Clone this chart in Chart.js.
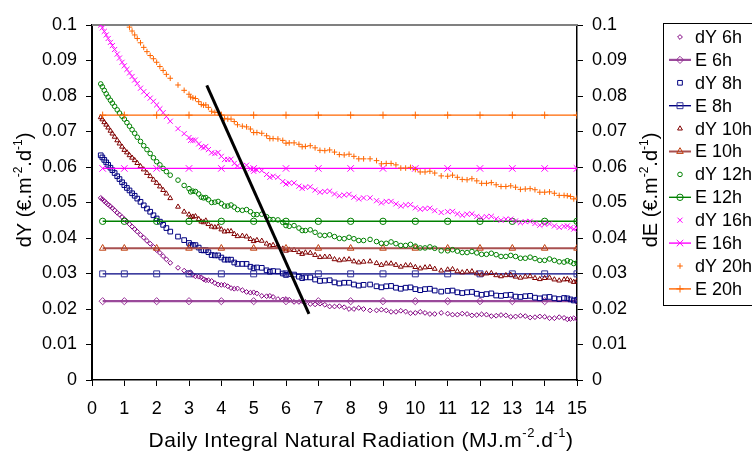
<!DOCTYPE html>
<html><head><meta charset="utf-8">
<script src="https://cdn.jsdelivr.net/npm/chart.js@4"></script>
<style>html,body{margin:0;padding:0;background:#fff;}#wrap{width:752px;height:454px;}</style>
</head><body><div id="wrap"><canvas id="c" width="752" height="454"></canvas></div>
<script>
// ---------- DATA ----------
const photoperiods = ['6h','8h','10h','12h','16h','20h'];
const radiation = [0.27,0.32,0.38,0.44,0.5,0.57,0.63,0.7,0.78,0.85,0.93,1,1.08,1.16,1.24,1.32,1.4,1.5,1.6,1.7,1.8,1.9,2,2.1,2.2,2.3,2.42,2.66,2.85,3,3.12,3.3,3.45,3.6,3.8,4,4.2,4.4,4.65,4.9,5.1,5.4,5.6,5.9,6.1,6.4,6.6,6.9,7.2,7.5,7.8,8.1,8.4,8.8,9.1,9.4,9.7,10,10.3,10.6,11,11.3,11.6,11.9,12.2,12.5,12.8,13.1,13.4,13.7,14,14.3,14.6,14.8,15];
const dY6h = [0.0513,0.0509,0.0504,0.0499,0.0494,0.0489,0.0484,0.0478,0.0471,0.0466,0.0459,0.0453,0.0446,0.0439,0.0432,0.0425,0.0418,0.0409,0.0401,0.0392,0.0384,0.0375,0.0366,0.0358,0.0349,0.0340,0.0330,0.0316,0.0308,0.0302,0.0296,0.0291,0.0284,0.0281,0.0273,0.0268,0.0264,0.0257,0.0253,0.0246,0.0244,0.0236,0.0234,0.0227,0.0226,0.0220,0.0220,0.0213,0.0212,0.0207,0.0205,0.0200,0.0200,0.0196,0.0196,0.0192,0.0193,0.0189,0.0189,0.0186,0.0187,0.0184,0.0186,0.0183,0.0184,0.0181,0.0182,0.0179,0.0180,0.0177,0.0178,0.0174,0.0175,0.0172,0.0172];
const dY8h = [0.0633,0.0627,0.0620,0.0613,0.0606,0.0598,0.0591,0.0583,0.0574,0.0566,0.0557,0.0549,0.0541,0.0534,0.0526,0.0519,0.0511,0.0502,0.0492,0.0483,0.0474,0.0464,0.0455,0.0446,0.0437,0.0428,0.0418,0.0404,0.0394,0.0386,0.0380,0.0373,0.0365,0.0360,0.0351,0.0345,0.0339,0.0331,0.0327,0.0319,0.0317,0.0309,0.0307,0.0300,0.0298,0.0291,0.0289,0.0283,0.0280,0.0275,0.0274,0.0269,0.0268,0.0264,0.0264,0.0260,0.0260,0.0256,0.0256,0.0252,0.0251,0.0247,0.0247,0.0243,0.0242,0.0238,0.0239,0.0235,0.0236,0.0232,0.0233,0.0230,0.0231,0.0227,0.0226];
const dY10h = [0.0740,0.0734,0.0726,0.0719,0.0711,0.0702,0.0694,0.0685,0.0675,0.0666,0.0657,0.0648,0.0641,0.0633,0.0626,0.0619,0.0611,0.0602,0.0593,0.0583,0.0574,0.0564,0.0555,0.0545,0.0535,0.0525,0.0512,0.0488,0.0474,0.0466,0.0460,0.0453,0.0444,0.0439,0.0430,0.0424,0.0419,0.0411,0.0406,0.0397,0.0394,0.0384,0.0380,0.0370,0.0367,0.0360,0.0359,0.0352,0.0347,0.0340,0.0339,0.0334,0.0333,0.0329,0.0328,0.0324,0.0323,0.0318,0.0317,0.0313,0.0311,0.0306,0.0305,0.0300,0.0300,0.0295,0.0295,0.0291,0.0291,0.0287,0.0287,0.0283,0.0283,0.0280,0.0279];
const dY12h = [0.0834,0.0826,0.0816,0.0806,0.0797,0.0788,0.0780,0.0771,0.0761,0.0752,0.0743,0.0735,0.0725,0.0715,0.0705,0.0695,0.0684,0.0672,0.0660,0.0649,0.0638,0.0626,0.0615,0.0606,0.0596,0.0587,0.0577,0.0563,0.0548,0.0539,0.0532,0.0524,0.0513,0.0508,0.0501,0.0497,0.0490,0.0487,0.0478,0.0474,0.0466,0.0460,0.0452,0.0444,0.0433,0.0428,0.0421,0.0416,0.0407,0.0404,0.0398,0.0398,0.0393,0.0390,0.0385,0.0384,0.0379,0.0377,0.0372,0.0371,0.0364,0.0363,0.0359,0.0358,0.0354,0.0353,0.0348,0.0348,0.0343,0.0342,0.0337,0.0337,0.0332,0.0333,0.0330];
const dY16h = [0.1000,0.0992,0.0982,0.0972,0.0962,0.0951,0.0942,0.0931,0.0918,0.0907,0.0895,0.0885,0.0875,0.0865,0.0855,0.0845,0.0835,0.0822,0.0812,0.0803,0.0794,0.0785,0.0775,0.0764,0.0753,0.0742,0.0729,0.0708,0.0694,0.0683,0.0675,0.0665,0.0654,0.0649,0.0638,0.0630,0.0621,0.0610,0.0604,0.0595,0.0592,0.0579,0.0574,0.0559,0.0555,0.0546,0.0543,0.0535,0.0531,0.0524,0.0521,0.0515,0.0513,0.0505,0.0503,0.0496,0.0493,0.0485,0.0483,0.0477,0.0474,0.0468,0.0467,0.0461,0.0460,0.0454,0.0453,0.0448,0.0446,0.0441,0.0439,0.0434,0.0433,0.0429,0.0428];
const dY20h = [null,null,null,null,null,null,null,null,null,null,null,null,null,0.0994,0.0983,0.0972,0.0962,0.0950,0.0937,0.0925,0.0914,0.0905,0.0895,0.0883,0.0872,0.0861,0.0850,0.0831,0.0816,0.0805,0.0795,0.0784,0.0774,0.0768,0.0754,0.0746,0.0735,0.0728,0.0715,0.0707,0.0697,0.0688,0.0680,0.0675,0.0668,0.0664,0.0658,0.0654,0.0646,0.0642,0.0634,0.0630,0.0623,0.0618,0.0610,0.0606,0.0597,0.0593,0.0586,0.0583,0.0574,0.0571,0.0564,0.0561,0.0554,0.0550,0.0545,0.0543,0.0538,0.0536,0.0529,0.0526,0.0520,0.0517,0.0512];
// second batch of days (higher radiation)
const radiationB = [3.05,3.2,3.38,3.52,3.7,3.9,4.1,4.3,4.5,4.78,5.0,5.25,5.5,5.75,6.0,6.25,6.5,6.75,7.05,7.35,7.65,7.95,8.25,8.6,8.95,9.25,9.55,9.85,10.15,10.45,10.8,11.15,11.45,11.75,12.05,12.35,12.65,12.95,13.25,13.55,13.85,14.15,14.45,14.7,14.9];
const dY6hB = [0.0303,0.0292,0.0289,0.0281,0.0279,0.0269,0.0268,0.0259,0.0258,0.0248,0.0247,0.0237,0.0237,0.0228,0.0228,0.0220,0.0222,0.0214,0.0215,0.0207,0.0208,0.0200,0.0203,0.0196,0.0198,0.0192,0.0195,0.0188,0.0192,0.0186,0.0189,0.0184,0.0187,0.0182,0.0185,0.0180,0.0183,0.0178,0.0181,0.0176,0.0179,0.0174,0.0177,0.0171,0.0174];
const dY8hB = [0.0380,0.0380,0.0366,0.0366,0.0352,0.0351,0.0339,0.0339,0.0327,0.0327,0.0315,0.0316,0.0305,0.0306,0.0296,0.0297,0.0287,0.0289,0.0279,0.0281,0.0272,0.0274,0.0266,0.0269,0.0261,0.0265,0.0257,0.0261,0.0253,0.0257,0.0249,0.0252,0.0245,0.0248,0.0240,0.0244,0.0237,0.0240,0.0234,0.0237,0.0230,0.0234,0.0228,0.0230,0.0224];
const dY10hB = [0.0459,0.0461,0.0446,0.0449,0.0432,0.0432,0.0418,0.0419,0.0405,0.0404,0.0391,0.0392,0.0378,0.0378,0.0364,0.0366,0.0355,0.0358,0.0346,0.0347,0.0337,0.0340,0.0331,0.0334,0.0324,0.0328,0.0319,0.0323,0.0314,0.0318,0.0308,0.0312,0.0303,0.0306,0.0297,0.0301,0.0292,0.0296,0.0288,0.0292,0.0284,0.0288,0.0280,0.0284,0.0276];
const dY12hB = [0.0530,0.0531,0.0515,0.0514,0.0500,0.0503,0.0490,0.0493,0.0480,0.0480,0.0466,0.0467,0.0452,0.0451,0.0435,0.0435,0.0421,0.0423,0.0408,0.0409,0.0399,0.0402,0.0393,0.0396,0.0385,0.0389,0.0379,0.0382,0.0372,0.0375,0.0364,0.0367,0.0359,0.0362,0.0354,0.0357,0.0348,0.0351,0.0343,0.0346,0.0337,0.0341,0.0333,0.0336,0.0328];
const dY16hB = [0.0675,0.0676,0.0657,0.0658,0.0640,0.0641,0.0621,0.0622,0.0603,0.0605,0.0588,0.0590,0.0571,0.0571,0.0552,0.0555,0.0540,0.0544,0.0529,0.0532,0.0519,0.0523,0.0510,0.0513,0.0499,0.0503,0.0490,0.0494,0.0481,0.0484,0.0472,0.0475,0.0464,0.0468,0.0457,0.0461,0.0450,0.0453,0.0443,0.0447,0.0436,0.0440,0.0430,0.0434,0.0425];
const dY20hB = [0.0797,0.0793,0.0776,0.0775,0.0757,0.0754,0.0737,0.0735,0.0719,0.0713,0.0697,0.0695,0.0680,0.0679,0.0667,0.0668,0.0657,0.0660,0.0647,0.0648,0.0635,0.0636,0.0623,0.0623,0.0609,0.0610,0.0597,0.0599,0.0586,0.0588,0.0575,0.0577,0.0565,0.0567,0.0554,0.0556,0.0545,0.0547,0.0537,0.0539,0.0529,0.0530,0.0520,0.0519,0.0510];
const eX = [0.33,1,2,3,4,5,6,7,8,9,10,11,12,13,14,15];
const eLevels = [0.0222,0.0299,0.0371,0.0447,0.0596,0.0746];
const trendX = [3.55,6.71];
const trendY = [0.0830,0.0186];
const yTicks = [0,0.01,0.02,0.03,0.04,0.05,0.06,0.07,0.08,0.09,0.1];

// ---------- STYLE ----------
const FONT = "Arial, 'Liberation Sans', sans-serif";
const dYSeries = [dY6h,dY8h,dY10h,dY12h,dY16h,dY20h];
const dYSeriesB = [dY6hB,dY8hB,dY10hB,dY12hB,dY16hB,dY20hB];
const styles = [
  {c:'#800080', shape:'rectRot', r:2.4, line:'#9a4a9a', lw:2.2, ec:'#993399', er:3.6},
  {c:'#000080', shape:'rect', r:3.3, line:'#000080', lw:1.4, ec:'#333399', er:4.2},
  {c:'#800000', shape:'triangle', r:2.8, line:'#a85050', lw:2, ec:'#c04010', er:3.8},
  {c:'#008000', shape:'circle', r:2.3, line:'#008000', lw:1.4, ec:'#008000', er:3.2},
  {c:'#ff00ff', shape:'crossRot', r:3.6, line:'#ff00ff', lw:1.4, ec:'#ff00ff', er:4.6},
  {c:'#ff6600', shape:'cross', r:2.8, line:'#ff6600', lw:1.4, ec:'#ff6600', er:3.6}
];

const datasets = [];
photoperiods.forEach((p,i)=>{
  const st = styles[i];
  const pts = [];
  radiation.forEach((x,k)=>{ if(dYSeries[i][k]!==null) pts.push({x:x,y:dYSeries[i][k]}); });
  radiationB.forEach((x,k)=>{ pts.push({x:x,y:dYSeriesB[i][k]}); });
  datasets.push({label:'dY '+p, data:pts, showLine:false, pointStyle:st.shape, pointRadius:st.r,
    pointBorderColor:st.c, pointBackgroundColor:'rgba(0,0,0,0)', pointBorderWidth:1, order:20-2*i});
  datasets.push({label:'E '+p, data:eX.map(x=>({x:x,y:eLevels[i]})), showLine:true, borderColor:st.line,
    borderWidth:st.lw, pointStyle:st.shape, pointRadius:st.er, pointBorderColor:st.ec,
    pointBackgroundColor:'rgba(0,0,0,0)', pointBorderWidth:1, order:19-2*i});
});
datasets.push({label:'trend', data:trendX.map((x,k)=>({x:x,y:trendY[k]})), showLine:true, borderColor:'#000',
  borderWidth:3, pointRadius:0, order:0});

function drawRich(ctx, parts, cx, cy, rot, size, spacing){
  ctx.save(); ctx.translate(cx,cy); ctx.rotate(rot);
  if (spacing && 'letterSpacing' in ctx) ctx.letterSpacing = spacing+'px';
  const sup = Math.round(size*0.62);
  let w=0;
  parts.forEach(p=>{ctx.font=(p.s?sup:size)+'px '+FONT; w+=ctx.measureText(p.t).width;});
  let x=-w/2; ctx.fillStyle='#000'; ctx.textBaseline='alphabetic'; ctx.textAlign='left';
  const base=size*0.36;
  parts.forEach(p=>{ctx.font=(p.s?sup:size)+'px '+FONT; ctx.fillText(p.t,x,p.s?base-size*0.45:base); x+=ctx.measureText(p.t).width;});
  ctx.restore();
}
const unitParts = (pre)=>[{t:pre+' (€.m'},{t:'-2',s:1},{t:'.d'},{t:'-1',s:1},{t:')'}];

const decor = {
  id:'decor',
  beforeDatasetsDraw(chart){
    const {ctx, chartArea:a} = chart;
    ctx.save(); ctx.strokeStyle='#808080'; ctx.lineWidth=2;
    ctx.beginPath(); ctx.moveTo(a.left,a.top); ctx.lineTo(a.right,a.top); ctx.stroke(); ctx.restore();
  },
  afterDraw(chart){
    const ctx = chart.ctx;
    drawRich(ctx, [{t:'Daily Integral Natural Radiation (MJ.m'},{t:'-2',s:1},{t:'.d'},{t:'-1',s:1},{t:')'}], 361, 439, 0, 21, 0.5);
    drawRich(ctx, unitParts('dY'), 24, 190, -Math.PI/2, 20, 0);
    drawRich(ctx, unitParts('dE'), 650, 190, -Math.PI/2, 20, 0);
    // legend
    ctx.save();
    ctx.strokeStyle='#000'; ctx.lineWidth=1;
    ctx.strokeRect(663.5, 23.5, 120, 282);
    let row = 0;
    const step = 22.9;
    photoperiods.forEach((p,i)=>{
      const st = styles[i];
      let y = 37 + step*row;
      ctx.strokeStyle=st.c; ctx.fillStyle='rgba(0,0,0,0)'; ctx.lineWidth=1;
      Chart.helpers.drawPoint(ctx,{pointStyle:st.shape,radius:st.r,borderWidth:1,rotation:0},680,y);
      ctx.fillStyle='#000'; ctx.font='18px '+FONT; ctx.textBaseline='middle'; ctx.textAlign='left';
      ctx.fillText('dY '+p, 695, y+1);
      row++;
      y = 37 + step*row;
      ctx.strokeStyle=st.line; ctx.lineWidth=st.lw;
      ctx.beginPath(); ctx.moveTo(669,y); ctx.lineTo(691,y); ctx.stroke();
      ctx.strokeStyle=st.ec; ctx.fillStyle='rgba(0,0,0,0)'; ctx.lineWidth=1;
      Chart.helpers.drawPoint(ctx,{pointStyle:st.shape,radius:st.er,borderWidth:1,rotation:0},680,y);
      ctx.fillStyle='#000'; ctx.fillText('E '+p, 695, y+1);
      row++;
    });
    ctx.restore();
  }
};

const fmt = v => String(Math.round(v*100)/100);
function yAxis(pos, w){
  return {type:'linear', position:pos, min:0, max:0.1,
    afterBuildTicks(s){ s.ticks = yTicks.map(v=>({value:v})); },
    ticks:{callback:fmt, padding:9, color:'#000', font:{size:18, family:FONT}},
    grid:{drawOnChartArea:false, drawTicks:true, tickLength:6, color:'#000', lineWidth:1},
    border:{display:true, color:'#000', width:pos==='left'?2:1.5},
    afterFit(s){ s.width = w; }};
}

new Chart(document.getElementById('c'), {
  type:'scatter',
  data:{datasets},
  options:{
    responsive:false, animation:false, devicePixelRatio:1,
    layout:{padding:{top:25,left:0,right:0,bottom:0}},
    plugins:{legend:{display:false}, tooltip:{enabled:false}},
    scales:{
      x:{type:'linear', min:0, max:15,
        ticks:{stepSize:1, padding:12, color:'#000', maxRotation:0, autoSkip:false, font:{size:18, family:FONT}},
        grid:{drawOnChartArea:false, tickLength:6, color:'#000', lineWidth:1},
        border:{display:true, color:'#000', width:1.5},
        afterFit(s){ s.height = 74; }},
      y: yAxis('left', 92),
      y2: yAxis('right', 175)
    }
  },
  plugins:[decor]
});
</script></body></html>
